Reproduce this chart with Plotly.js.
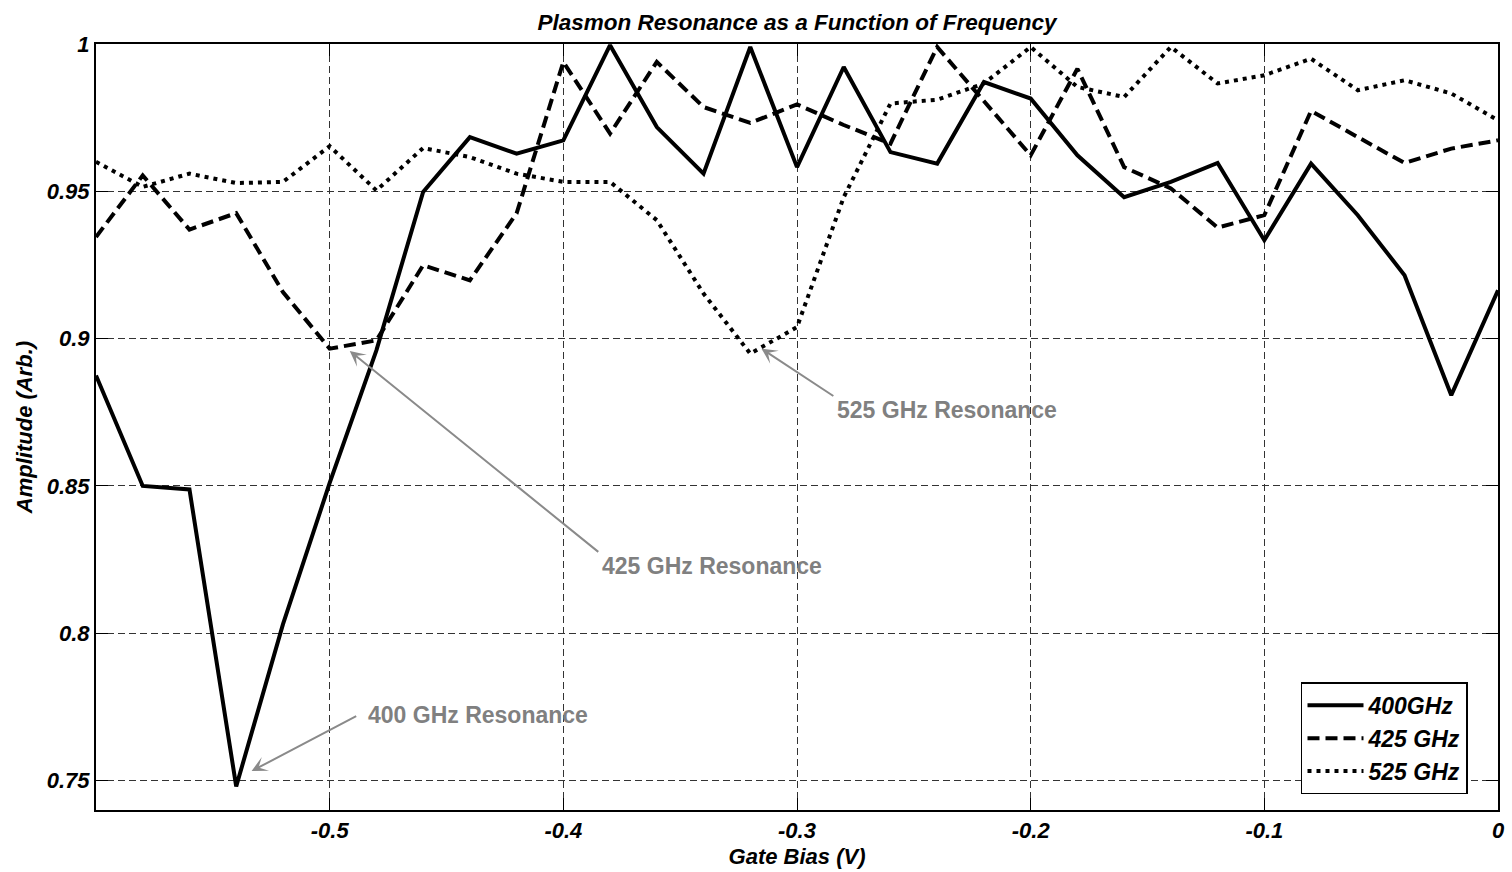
<!DOCTYPE html>
<html>
<head>
<meta charset="utf-8">
<script src="https://cdn.plot.ly/plotly-3.0.1.min.js"></script>
<style>
  html, body { margin: 0; padding: 0; background: #fff; }
  #chart { width: 1512px; height: 872px; }
</style>
</head>
<body>
<div id="chart"></div>
<script>
// ---- data ----
const gateBias = [-0.6, -0.58, -0.56, -0.54, -0.52, -0.5, -0.48, -0.46, -0.44, -0.42,
                  -0.4, -0.38, -0.36, -0.34, -0.32, -0.3, -0.28, -0.26, -0.24, -0.22,
                  -0.2, -0.18, -0.16, -0.14, -0.12, -0.1, -0.08, -0.06, -0.04, -0.02, 0];

const amp400 = [0.8875, 0.850, 0.8488, 0.748, 0.803, 0.851, 0.896, 0.9498, 0.9684, 0.9628,
                0.9673, 0.9996, 0.9718, 0.956, 0.999, 0.9582, 0.9922, 0.9633, 0.9594, 0.9871,
                0.9815, 0.9622, 0.948, 0.9532, 0.9596, 0.9334, 0.9594, 0.9419, 0.9215, 0.8808, 0.9164];

const amp425 = [0.9345, 0.9554, 0.937, 0.9426, 0.9158, 0.8966, 0.8994, 0.9249, 0.9198, 0.9425,
                0.9939, 0.9696, 0.9939, 0.9786, 0.9732, 0.9795, 0.9725, 0.9662, 0.999, 0.9806,
                0.9622, 0.9916, 0.9582, 0.951, 0.9377, 0.9419, 0.9773, 0.9684, 0.9596, 0.9645, 0.9673];

const amp525 = [0.96, 0.9515, 0.956, 0.9528, 0.9532, 0.9653, 0.9503, 0.9647, 0.9616, 0.956,
                0.9532, 0.9532, 0.9402, 0.9153, 0.8949, 0.9039, 0.948, 0.9798, 0.9811, 0.9866,
                0.999, 0.9854, 0.982, 0.999, 0.9866, 0.9894, 0.995, 0.9843, 0.9877, 0.9832, 0.9741];

const seriesNames = ["400GHz", "425 GHz", "525 GHz"];

const xTickVals = [-0.5, -0.4, -0.3, -0.2, -0.1, 0];
const xTickText = ["-0.5", "-0.4", "-0.3", "-0.2", "-0.1", "0"];
const yTickVals = [0.75, 0.8, 0.85, 0.9, 0.95, 1];
const yTickText = ["0.75", "0.8", "0.85", "0.9", "0.95", "1"];

// annotation labels
const resonanceLabels = ["400 GHz Resonance", "425 GHz Resonance", "525 GHz Resonance"];
const tipX  = [-0.5334, -0.4914, -0.3152];
const tipY  = [0.7532, 0.8958, 0.8966];
const tailX = [-0.488, -0.3844, -0.2838];
const tailY = [0.7721, 0.8272, 0.8802];
const textX = [-0.4844, -0.3844, -0.2838];
const textY = [0.7721, 0.8227, 0.8757];

// ---- chart ----
const FONT = "Liberation Sans, Arial, Helvetica, sans-serif";
const bi = (size, color) => ({family: FONT, size: size, color: color || "#000", weight: "bold", style: "italic"});

const dashes = ["solid", "12px,6px", "4px,5px"];
const ys = [amp400, amp425, amp525];
const traces = ys.map((y, i) => ({
  type: "scatter",
  mode: "lines",
  x: gateBias,
  y: y,
  name: seriesNames[i],
  line: {color: "#000", width: 4, dash: dashes[i]}
}));

const annotations = [];
for (let i = 0; i < resonanceLabels.length; i++) {
  annotations.push({
    xref: "x", yref: "y", axref: "x", ayref: "y",
    x: tipX[i], y: tipY[i], ax: tailX[i], ay: tailY[i],
    text: "", showarrow: true, arrowhead: 3, arrowsize: 1.3, arrowwidth: 2,
    arrowcolor: "#8a8a8a"
  });
  annotations.push({
    xref: "x", yref: "y", x: textX[i], y: textY[i],
    xanchor: "left", yanchor: "middle", showarrow: false,
    text: resonanceLabels[i],
    font: {family: FONT, size: 23, color: "#808080", weight: "bold"}
  });
}

const axisCommon = {
  showline: true, linecolor: "#000", linewidth: 2, mirror: "allticks",
  ticks: "inside", ticklen: 12, tickwidth: 1, tickcolor: "#000",
  showgrid: true, gridcolor: "#333", gridwidth: 1, griddash: "7px,4px",
  zeroline: false, tickfont: bi(22)
};

const layout = {
  width: 1512, height: 872,
  margin: {l: 96, r: 14, t: 44, b: 62},
  paper_bgcolor: "#fff", plot_bgcolor: "#fff",
  title: {text: "Plasmon Resonance as a Function of Frequency", font: bi(22.5),
          x: 0.5, xref: "paper", xanchor: "center", y: 0.975, yref: "container", yanchor: "middle"},
  xaxis: Object.assign({}, axisCommon, {
    range: [-0.6, 0], tickmode: "array", tickvals: xTickVals, ticktext: xTickText,
    title: {text: "Gate Bias (V)", font: bi(22), standoff: 6}
  }),
  yaxis: Object.assign({}, axisCommon, {
    range: [0.74, 1], tickmode: "array", tickvals: yTickVals, ticktext: yTickText,
    title: {text: "Amplitude (Arb.)", font: bi(22), standoff: 8}
  }),
  showlegend: true,
  legend: {
    x: 0.9786, xanchor: "right", y: 0.0205, yanchor: "bottom",
    bgcolor: "#fff", bordercolor: "#000", borderwidth: 1.5,
    font: bi(23), tracegroupgap: 0, itemwidth: 56
  },
  annotations: annotations
};

Plotly.newPlot("chart", traces, layout, {displayModeBar: false, staticPlot: true});
</script>
</body>
</html>
